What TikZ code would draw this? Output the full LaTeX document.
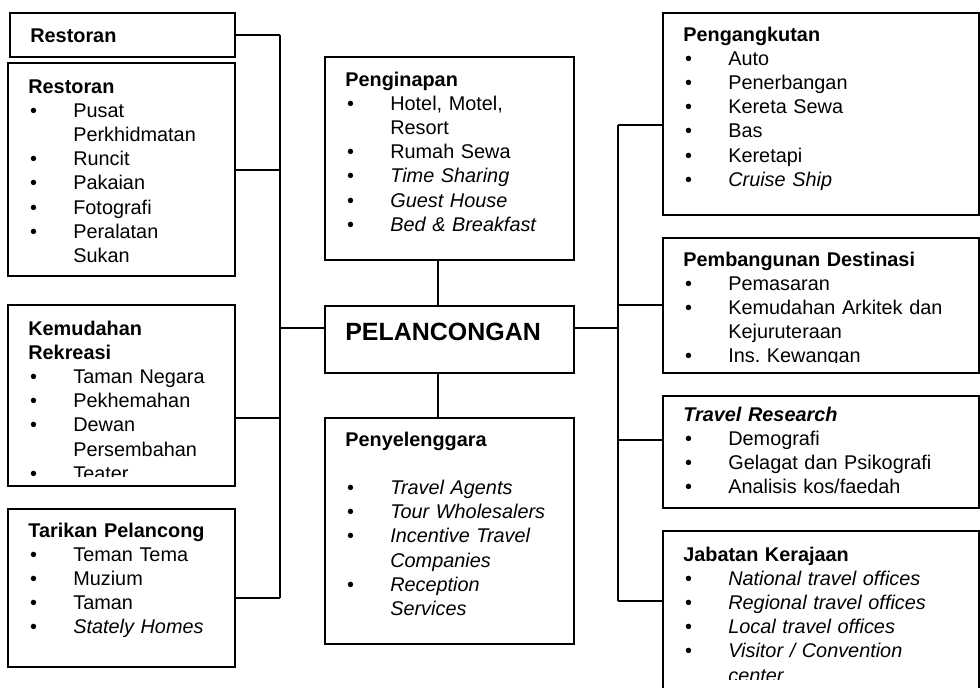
\documentclass[tikz,border=0pt]{standalone}
\usepackage{fontspec}
\setmainfont{Liberation Sans}
\usetikzlibrary{fit,calc}
\frenchspacing

\newcommand{\bul}{\makebox[0.9cm][l]{\hspace{1pt}\textbullet}}
\newcommand{\cont}{\hspace*{0.9cm}}

\begin{document}
\begin{tikzpicture}[
  x=0.02cm, y=-0.02cm,
  font=\fontsize{11.3}{13.8}\selectfont,
  frame/.style={draw, line width=0.9pt, inner sep=0pt},
  txt/.style  ={anchor=base west, inner sep=0pt, align=left, text width=5.8cm},
  lnk/.style  ={line width=0.9pt},
]
\clip (0,0) rectangle (980,687);

%% ---------------- left column ----------------
\node[frame, fit={(10,13) (235,57)}] (rest) {};
\node[txt] (restT) at (30,42) {\textbf{Restoran}};

\node[frame, fit={(8,63) (235,276)}] (kedai) {};
\node[txt] (kedaiT) at (28,93) {\textbf{Restoran}\\
  \bul Pusat\\ \cont Perkhidmatan\\ \bul Runcit\\ \bul Pakaian\\
  \bul Fotografi\\ \bul Peralatan\\ \cont Sukan};

\node[frame, fit={(8,305) (235,486)}] (rekreasi) {};
\begin{scope}
  \clip (8,305) rectangle (235,476);
  \node[txt] (rekreasiT) at (28,335) {\textbf{Kemudahan}\\ \textbf{Rekreasi}\\
    \bul Taman Negara\\ \bul Pekhemahan\\ \bul Dewan\\ \cont Persembahan\\ \bul Teater};
\end{scope}

\node[frame, fit={(8,509) (235,667)}] (tarikan) {};
\node[txt] (tarikanT) at (28,537) {\textbf{Tarikan Pelancong}\\
  \bul Teman Tema\\ \bul Muzium\\ \bul Taman\\ \bul \textit{Stately Homes}};

%% ---------------- centre ----------------
\node[frame, fit={(325,57) (574,260)}] (inap) {};
\node[txt] (inapT) at (345,86) {\textbf{Penginapan}\\
  \bul Hotel, Motel,\\ \cont Resort\\ \bul Rumah Sewa\\ \bul \textit{Time Sharing}\\
  \bul \textit{Guest House}\\ \bul \textit{Bed \& Breakfast}};

\node[frame, fit={(325,306) (574,373)}] (pusat) {};
\node[txt, font=\fontsize{14.2}{17}\selectfont\bfseries] (pusatT) at (345,340) {PELANCONGAN};

\node[frame, fit={(325,418) (574,644)}] (urus) {};
\node[txt] (urusT) at (345,446) {\textbf{Penyelenggara}\\[13.8pt]
  \bul \textit{Travel Agents}\\ \bul \textit{Tour Wholesalers}\\
  \bul \textit{Incentive Travel}\\ \cont \textit{Companies}\\
  \bul \textit{Reception}\\ \cont \textit{Services}};

%% ---------------- right column ----------------
\node[frame, fit={(663,13) (979,215)}] (angkut) {};
\node[txt] (angkutT) at (683,41) {\textbf{Pengangkutan}\\
  \bul Auto\\ \bul Penerbangan\\ \bul Kereta Sewa\\ \bul Bas\\ \bul Keretapi\\
  \bul \textit{Cruise Ship}};

\node[frame, fit={(663,238) (979,373)}] (bangun) {};
\begin{scope}
  \clip (663,238) rectangle (979,362);
  \node[txt] (bangunT) at (683,266) {\textbf{Pembangunan Destinasi}\\
    \bul Pemasaran\\ \bul Kemudahan Arkitek dan\\ \cont Kejuruteraan\\ \bul Ins.\ Kewangan};
\end{scope}

\node[frame, fit={(663,396) (979,508)}] (kaji) {};
\node[txt] (kajiT) at (683,421) {\textbf{\textit{Travel Research}}\\
  \bul Demografi\\ \bul Gelagat dan Psikografi\\ \bul Analisis kos/faedah};

\node[frame, fit={(663,531) (979,720)}] (kerajaan) {};
\begin{scope}
  \clip (663,531) rectangle (979,679);
  \node[txt] (kerajaanT) at (683,561) {\textbf{Jabatan Kerajaan}\\
    \bul \textit{National travel offices}\\ \bul \textit{Regional travel offices}\\
    \bul \textit{Local travel offices}\\ \bul \textit{Visitor / Convention}\\
    \cont \textit{center}};
\end{scope}

%% ---------------- connectors ----------------
\coordinate (la) at (280,35);
\coordinate (lb) at (280,170);
\coordinate (lc) at (280,418);
\coordinate (ld) at (280,598);
\coordinate (lm) at (280,328);
\coordinate (ra) at (618,125);
\coordinate (rb) at (618,305);
\coordinate (rc) at (618,440);
\coordinate (rd) at (618,601);
\coordinate (rm) at (618,328);
\coordinate (cv) at (438,0);

\draw[lnk] (la) -- (ld);
\draw[lnk] (la) -- (la -| rest.east);
\draw[lnk] (lb) -- (lb -| kedai.east);
\draw[lnk] (lc) -- (lc -| rekreasi.east);
\draw[lnk] (ld) -- (ld -| tarikan.east);
\draw[lnk] (lm) -- (lm -| pusat.west);

\draw[lnk] (ra) -- (rd);
\draw[lnk] (ra) -- (ra -| angkut.west);
\draw[lnk] (rb) -- (rb -| bangun.west);
\draw[lnk] (rc) -- (rc -| kaji.west);
\draw[lnk] (rd) -- (rd -| kerajaan.west);
\draw[lnk] (rm) -- (rm -| pusat.east);

\draw[lnk] (inap.south -| cv) -- (pusat.north -| cv);
\draw[lnk] (pusat.south -| cv) -- (urus.north -| cv);

\end{tikzpicture}
\end{document}
